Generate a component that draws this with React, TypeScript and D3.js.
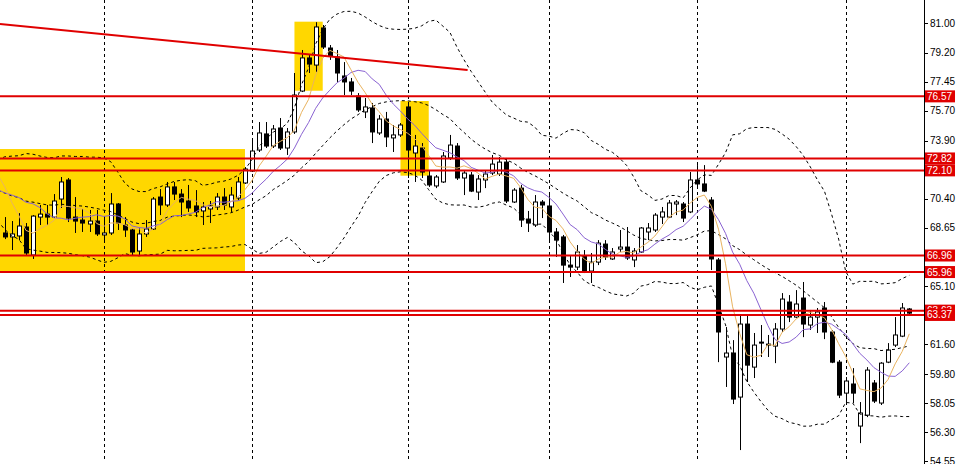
import React from 'react';
import * as d3 from 'd3';

const W = 959;
const H = 464;

// Daily candles
const openP = [68.32,68.08,68.14,68.68,66.99,69.28,69.46,69.28,70.37,71.52,69.28,69.10,68.86,69.04,68.20,68.32,70.07,68.80,68.50,67.23,
68.26,68.56,70.49,70.01,71.10,70.67,70.25,69.95,69.65,69.77,69.89,70.49,69.89,70.43,71.34,72.06,73.33,74.30,73.57,74.66,
73.45,74.42,76.89,78.89,78.46,80.70,79.49,78.95,77.80,77.44,76.59,75.63,75.87,74.36,75.20,74.06,74.24,75.93,73.15,73.45,
71.76,71.16,71.40,72.85,73.57,71.64,71.82,70.79,71.52,71.94,71.88,72.60,70.19,71.03,69.16,68.80,70.19,69.95,68.38,68.08,
66.38,66.26,66.93,66.02,66.56,67.65,66.75,67.35,67.47,66.69,67.17,68.38,68.50,69.28,69.28,70.07,70.07,69.59,71.52,71.28,
70.31,66.69,60.83,61.07,58.41,62.82,60.22,61.73,61.61,61.49,62.52,64.15,63.24,64.39,62.76,63.24,63.79,62.34,60.52,58.65,
59.20,56.66,57.32,59.26,58.05,60.52,61.55,62.09,63.73];
const highP = [69.28,69.04,69.52,68.92,69.40,70.01,70.01,70.67,71.70,71.64,70.49,69.77,69.71,69.71,69.34,70.73,70.13,69.28,68.62,68.62,
69.10,70.49,70.97,71.40,71.40,70.97,71.22,70.91,70.19,70.25,70.73,71.03,71.10,71.70,72.30,73.93,75.02,75.02,74.84,75.26,
74.66,77.98,79.37,79.07,81.05,80.88,79.67,79.37,78.64,77.68,76.77,76.47,76.17,75.44,75.63,74.84,74.96,76.23,74.24,73.75,
72.12,71.82,73.21,74.24,73.75,72.06,72.00,71.82,72.12,73.03,72.91,72.85,71.03,71.22,69.65,70.61,70.31,70.61,68.62,68.20,
66.99,67.59,67.29,67.11,67.89,67.89,67.41,68.50,68.68,67.41,68.68,68.92,69.52,69.89,70.31,70.31,70.19,72.00,72.42,72.42,
70.49,66.81,62.64,61.85,63.36,63.36,62.28,62.76,62.16,62.88,64.69,64.57,64.87,65.36,63.67,63.79,64.15,62.46,60.65,59.62,
60.16,58.11,60.22,59.44,60.52,61.67,63.24,64.09,63.79];
const lowP = [67.95,67.29,67.89,66.99,66.75,68.80,68.80,69.22,69.83,68.98,68.32,68.38,68.38,68.14,67.89,68.20,68.50,68.08,66.99,66.99,
68.08,68.50,69.40,69.89,70.31,69.28,69.59,69.28,68.80,68.92,69.71,69.71,69.59,70.31,71.28,72.00,73.21,73.45,73.45,73.33,
73.03,74.30,76.83,77.98,78.04,79.43,78.77,77.44,76.65,76.65,75.63,75.26,73.75,74.24,73.51,73.21,74.12,71.64,71.40,71.64,
71.10,71.03,71.34,72.73,71.52,70.61,70.79,70.31,71.03,71.82,71.76,70.13,70.13,68.68,68.38,68.68,69.22,67.89,66.87,65.30,
65.66,66.08,65.90,65.30,66.38,66.69,66.69,67.17,66.69,66.26,67.11,67.89,68.38,68.86,69.22,69.40,68.98,69.52,71.10,70.79,
66.08,60.52,59.02,57.99,55.21,59.32,59.56,60.83,60.83,60.46,62.34,62.94,63.18,62.03,62.46,62.28,61.91,60.46,58.35,58.11,
58.05,55.63,57.20,58.05,57.93,60.46,61.43,62.03,63.43];
const closeP = [68.08,68.26,68.74,67.11,69.34,69.46,69.28,70.25,71.40,69.22,69.04,68.92,69.04,68.26,68.32,70.07,68.92,68.50,67.17,68.26,
68.56,70.37,70.01,71.10,70.67,70.19,69.83,69.59,69.89,69.95,70.49,70.01,70.61,71.40,72.18,73.27,74.36,73.57,74.60,73.45,
74.42,76.65,78.89,78.52,80.76,79.55,79.01,77.98,77.44,76.89,75.75,75.93,74.42,75.20,74.12,74.24,74.84,73.33,73.57,72.00,
71.22,71.70,72.97,73.63,71.64,71.94,70.85,71.58,71.88,72.48,72.60,70.25,70.91,69.10,68.92,70.19,70.01,68.38,67.89,66.38,
66.26,67.17,66.02,66.56,67.71,66.87,67.17,67.47,66.81,67.23,68.62,68.62,69.40,69.59,70.13,70.19,69.22,71.52,71.28,70.85,
66.75,62.34,61.07,58.29,62.82,60.34,61.55,61.67,61.55,62.52,64.33,63.24,64.03,62.82,63.24,63.55,62.34,60.52,58.53,59.38,
58.65,57.45,60.04,58.17,60.46,61.25,62.16,63.79,63.48];

// Closes before the first visible bar (only feed the indicators)
const historyCloses = [71.4,71.6,70.8,71.4,70.6,71.2,70.9,70.5,70.4,69.6,70.2,69.5,70.3,69.9,70.3,71.8,73.0,72.7,71.6,70.2];

// Horizontal levels
const levels = [76.57, 72.82, 72.10, 66.96, 65.96, 63.63, 63.37];
const levelLabels = ['76.57', '72.82', '72.10', '66.96', '65.96', '63.63', '63.37'];

// Price axis ticks
const tickValues = [81.0, 79.2, 77.45, 75.7, 73.9, 70.4, 68.65, 65.1, 61.6, 59.8, 58.05, 56.3, 54.55];
const tickLabels = ['81.00', '79.20', '77.45', '75.70', '73.90', '70.40', '68.65', '65.10', '61.60', '59.80', '58.05', '56.30', '54.55'];

// Vertical grid (bar index)
const gridIdx = [14, 35, 57, 77, 98, 119];

// Yellow zones
const zoneStart = [-5, 41, 56];
const zoneEnd = [34, 45, 60];
const zoneTop = [73.39, 81.08, 76.29];
const zoneBottom = [65.99, 76.91, 71.78];

// Trend line
const trendIdx = [-0.67, 65.5];
const trendPrice = [80.94, 78.16];

export default function App() {
  const plotRight = 924;
  const x = d3.scaleLinear().domain([0, 128]).range([4.7, 909.3]);
  const y = d3.scaleLinear().domain([54.55, 81.0]).range([461, 23]);

  const all = historyCloses.concat(closeP);
  const off = historyCloses.length;
  const idxs = d3.range(-1, closeP.length);
  const win = (i: number, n: number) => all.slice(i + off - n + 1, i + off + 1);
  const sma5 = idxs.map(i => ({ i, v: d3.mean(win(i, 5)) as number }));
  const sma10 = idxs.map(i => ({ i, v: d3.mean(win(i, 10)) as number }));
  const bb = idxs.map(i => {
    const w = win(i, 20);
    const m = d3.mean(w) as number;
    const sd = Math.sqrt(d3.mean(w.map(v => (v - m) * (v - m))) as number);
    return { i, m, up: m + 2 * sd, dn: m - 2 * sd };
  });

  const line = (acc: (d: any) => number) =>
    d3.line<any>().x(d => x(d.i)).y(d => y(acc(d))).curve(d3.curveLinear);

  const bw = 4;
  const font = '"Liberation Sans", Arial, sans-serif';

  return (
    <>
      <style>{`body{margin:0;background:#fff}`}</style>
      <svg width={W} height={H} style={{ display: 'block' }}>
        <defs>
          <clipPath id="plot">
            <rect x={0} y={0} width={plotRight} height={461} />
          </clipPath>
        </defs>
        <rect x={0} y={0} width={W} height={H} fill="#fff" />
        <g clipPath="url(#plot)">
          {zoneStart.map((s, k) => (
            <rect key={'z' + k} x={x(s)} y={y(zoneTop[k])} width={x(zoneEnd[k]) - x(s)}
              height={y(zoneBottom[k]) - y(zoneTop[k])} fill="#FFD700" />
          ))}
          {gridIdx.map((g, k) => (
            <line key={'g' + k} x1={Math.round(x(g)) + 0.5} x2={Math.round(x(g)) + 0.5} y1={0} y2={464}
              stroke="#000" strokeWidth={1} strokeDasharray="3,3" />
          ))}
          {closeP.map((c, i) => {
            const o = openP[i];
            const cx = Math.round(x(i)) + 0.5;
            const top = y(Math.max(o, c));
            const bot = y(Math.min(o, c));
            const up = c >= o;
            return (
              <g key={'c' + i}>
                <line x1={cx} x2={cx} y1={y(highP[i])} y2={y(lowP[i])} stroke="#000" strokeWidth={1} />
                <rect x={cx - bw / 2} y={top} width={bw} height={Math.max(1, bot - top)}
                  fill={up ? '#fff' : '#000'} stroke="#000" strokeWidth={1} />
              </g>
            );
          })}
          <path d={line(d => d.up)(bb) || ''} fill="none" stroke="#000" strokeWidth={1} strokeDasharray="3,3" />
          <path d={line(d => d.m)(bb) || ''} fill="none" stroke="#000" strokeWidth={1} strokeDasharray="3,3" />
          <path d={line(d => d.dn)(bb) || ''} fill="none" stroke="#000" strokeWidth={1} strokeDasharray="3,3" />
          <path d={line(d => d.v)(sma10) || ''} fill="none" stroke="#8A63D2" strokeWidth={1} />
          <path d={line(d => d.v)(sma5) || ''} fill="none" stroke="#E9B35F" strokeWidth={1} />
          {levels.map((l, k) => (
            <line key={'l' + k} x1={0} x2={plotRight} y1={y(l)} y2={y(l)} stroke="#E00000" strokeWidth={2} />
          ))}
          <line x1={x(trendIdx[0])} y1={y(trendPrice[0])} x2={x(trendIdx[1])} y2={y(trendPrice[1])}
            stroke="#E00000" strokeWidth={2} />
        </g>
        <line x1={plotRight + 0.5} x2={plotRight + 0.5} y1={0} y2={H} stroke="#000" strokeWidth={1} />
        {tickValues.map((t, k) => (
          <g key={'t' + k}>
            <line x1={plotRight} x2={plotRight + 4} y1={Math.round(y(t)) + 0.5} y2={Math.round(y(t)) + 0.5} stroke="#000" />
            <text x={plotRight + 6} y={y(t)} dy="0.35em" fontFamily={font} fontSize={10} fill="#000">{tickLabels[k]}</text>
          </g>
        ))}
        {levels.map((l, k) => (
          <g key={'lb' + k}>
            <rect x={plotRight + 1} y={y(l) - 6} width={30} height={12} fill="#E00000" />
            <text x={plotRight + 3} y={y(l)} dy="0.35em" fontFamily={font} fontSize={10} fill="#fff">{levelLabels[k]}</text>
          </g>
        ))}
      </svg>
    </>
  );
}
